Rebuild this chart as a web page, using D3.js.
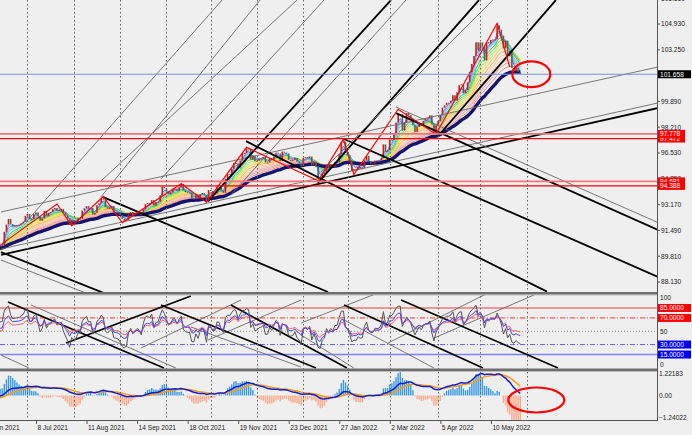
<!DOCTYPE html>
<html><head><meta charset="utf-8">
<script src="https://cdn.jsdelivr.net/npm/d3@7"></script>
<style>html,body{margin:0;padding:0;background:#efefef;overflow:hidden}svg{display:block}</style>
</head><body><svg id="c" width="692" height="435"></svg>
<script>
// ---------- DATA ----------
// daily closes before the visible window (Apr 26 - Jun 10 2021), used to warm up the indicators
const preCloses = [90.86,90.90,90.62,90.59,91.28,90.92,91.28,91.27,90.98,90.22,90.12,90.15,90.70,90.75,90.32,90.18,89.86,90.24,89.80,90.01,89.81,89.61,90.03,90.00,90.03,89.85,89.84,89.92,90.52,90.14,90.01,90.09,90.10,90.06];
// visible daily closes, 11 Jun 2021 (index 0) .. 27 May 2022 (index 248)
const closes = [
90.56,90.52,90.53,91.40,91.87,92.23,91.90,91.75,91.80,91.82,91.85,91.95,92.06,92.44,92.56,92.23,92.23,92.56,92.66,92.42,
92.12,92.26,92.76,92.41,92.64,92.69,92.87,92.95,92.77,92.82,92.89,92.65,92.47,92.28,91.85,92.17,92.05,92.07,92.27,92.25,
92.78,92.93,93.07,92.91,92.95,92.52,92.64,93.13,93.25,93.56,93.50,93.00,92.89,92.98,93.07,92.68,92.66,92.63,92.49,92.24,
92.13,92.18,92.53,92.68,92.49,92.58,92.66,92.63,92.49,92.86,93.20,93.27,93.22,93.46,93.10,93.33,93.36,93.77,94.35,94.23,
94.04,93.84,93.95,94.20,94.22,94.07,94.31,94.52,94.09,93.98,93.96,93.95,93.57,93.56,93.78,93.60,93.83,93.92,93.81,93.37,
94.12,94.06,93.87,93.89,94.34,94.32,94.06,93.94,94.85,95.15,95.12,95.50,95.89,95.86,95.58,96.04,96.50,96.52,96.82,96.79,
96.09,96.35,95.99,96.03,96.15,96.19,96.27,95.91,95.92,96.20,96.08,96.30,96.55,96.49,96.00,96.62,96.56,96.50,96.08,96.05,
96.08,96.20,95.96,95.85,95.67,96.21,96.26,96.19,96.30,95.72,95.97,95.62,94.96,94.83,95.17,95.26,95.75,95.55,95.76,95.64,
95.94,95.94,96.46,97.23,97.27,96.54,96.37,96.05,95.38,95.48,95.44,95.62,95.52,95.54,96.06,96.35,95.99,95.85,95.85,96.04,
96.03,96.04,96.19,97.09,96.61,96.71,97.41,97.39,97.79,98.51,99.03,99.05,97.99,98.53,99.13,99.00,98.78,98.33,97.90,98.23,
98.49,98.33,98.63,98.79,98.79,98.98,98.39,97.78,98.31,98.62,99.01,99.48,99.63,99.80,99.80,99.93,100.29,99.94,100.48,100.94,
101.00,100.41,100.63,101.13,101.80,102.33,102.85,103.74,103.19,103.73,103.46,102.56,103.75,103.66,103.89,103.92,103.93,104.84,104.56,104.17,
103.34,103.84,102.84,103.17,102.06,101.86,102.07,101.80,101.66];
const tickIdx = [-5,19,43,67,91,115,139,163,187,211,235];
const tickLabels = ["4 Jun 2021","8 Jul 2021","11 Aug 2021","14 Sep 2021","18 Oct 2021","19 Nov 2021","23 Dec 2021","27 Jan 2022","2 Mar 2022","5 Apr 2022","10 May 2022"];
const gridIdx = [14,36,58,80,101,123,145,166,186,209,229,251];
const priceTicks = [106.61,104.93,103.25,101.57,99.89,98.21,96.53,94.85,93.17,91.49,89.81,88.13];
const lastPrice = 101.658;
const redLevels = [97.472,97.778,94.681,94.388];
const oscLevels = [85,70,50,30,15];
const oscTickText = [100,50,0];
const macdTicks = [1.22183,0,-1.24022];
const zzIdx   = [0,28,35,50,59,87,99,118,152,164,169,190,208,237,243];
const zzPrice = [90.42,93.21,91.78,93.70,92.00,94.53,93.33,96.90,94.72,97.42,95.14,99.38,97.75,104.98,102.13];
// trendlines [idx1, price1, idx2, price2]
const mainLines = [
 [1.42,89.89,313.4,99.46],[1.42,90.28,313.4,99.79],[1.42,92.69,313.4,102.13],
 [1.42,90.08,50.3,87.41],[1.42,89.56,41.8,87.41],[49.9,93.66,156.7,87.48],[117.8,97.3,260.7,87.5],
 [164.3,97.44,313.4,88.46],[189,99.13,313.4,91.52],[189,99.52,313.4,92.0],
 [13.3,92.04,106.4,106.49],[48.9,93.67,124.4,106.49],[48.9,94.71,142,106.49],[77.4,94.84,154.8,106.49],
 [99.7,93.40,186.6,106.49],[110.6,93.8,193.7,106.49],[151.9,94.58,228.4,106.49],[153.4,95.29,235.0,106.49],
 [209.4,97.70,264.9,106.49]];
const mainLineKind = ["B","g","g","B","g","B","B","B","B","g","g","g","g","g","B","g","B","g","B"];
// oscillator trendlines [idx1, value1, idx2, value2]
const oscLines = [
 [4.75,94,78.8,-5.3],[15.7,89.5,84.5,-5.3],[1.4,14.3,14.7,-5.3],[32.3,32.3,91.6,103],
 [67.9,24.8,115.4,97],[99.7,36.8,143.9,97],[143.9,62.4,180.4,107.5],[185.2,32.3,232.7,107.5],[207,39.8,254.5,104.5],
 [77.4,89.5,151,-5.3],[110.6,89.5,165.7,-5.3],[164.3,89.5,230.3,-5.3],[191.4,97,265.9,-5.3],
 [91.6,56.4,143.9,-3.8],[143.9,44.4,169.0,-5.3],[164.3,67,207,-5.3]];
const oscLineKind = ["B","g","g","B","g","g","g","g","g","B","B","B","B","g","g","g"];

// ---------- INDICATORS ----------
const all = preCloses.concat(closes);
const P = preCloses.length;
function ema(a,n){const k=2/(n+1);const o=[];let e=a[0];for(let i=0;i<a.length;i++){e=i?a[i]*k+e*(1-k):a[i];o.push(e);}return o;}
function rsi(a,n){const o=[NaN];let g=0,l=0;for(let i=1;i<a.length;i++){const d=a[i]-a[i-1];const up=Math.max(d,0),dn=Math.max(-d,0);
  if(i<=n){g+=up/n;l+=dn/n;}else{g=(g*(n-1)+up)/n;l=(l*(n-1)+dn)/n;}o.push(l===0?100:100-100/(1+g/l));}return o;}
const vis = a => a.slice(P);

// ---------- SCALES ----------
const svg = d3.select("#c");
const W = 657;
const x = d3.scaleLinear().domain([0,248]).range([-2,-2+248*2.106]);
const y = d3.scaleLinear().domain([88.13,104.93]).range([282,24]);
const yo = d3.scaleLinear().domain([0,100]).range([364.5,298]);
const ym = d3.scaleLinear().domain([-1.24022,1.22183]).range([417.3,374]);
const defs = svg.append("defs");
function clip(id,y0,y1){defs.append("clipPath").attr("id",id).append("rect").attr("x",0).attr("y",y0).attr("width",W).attr("height",y1-y0);}
clip("cm",0,292); clip("co",295,369); clip("cd",371,420);
const gMain = svg.append("g").attr("clip-path","url(#cm)");
const gOsc  = svg.append("g").attr("clip-path","url(#co)");
const gMacd = svg.append("g").attr("clip-path","url(#cd)");

// grid
svg.append("g").selectAll("line").data(gridIdx).join("line")
  .attr("x1",d=>Math.round(x(d))+0.5).attr("x2",d=>Math.round(x(d))+0.5).attr("y1",0).attr("y2",420)
  .attr("stroke","#666").attr("stroke-width",1).attr("stroke-dasharray","1.5,2.5");

// ---------- MAIN PANEL ----------
const rainbow = [[3,"#3f8fff"],[4,"#6aaaf8"],[5,"#9cc8f4"],[6,"#74d0d8"],[8,"#2fc860"],[10,"#66dd44"],[12,"#a8e860"],
 [14,"#e8e84a"],[16,"#ffd040"],[19,"#ffb040"],[22,"#ffc890"],[25,"#ffc0a8"],[28,"#f8a8a8"],[31,"#f09898"],[35,"#e88888"]];
const line = d3.line().x((d,i)=>x(i)).y(d=>y(d));
rainbow.slice().reverse().forEach(([n,c])=>{
  gMain.append("path").attr("d",line(vis(ema(all,n)))).attr("fill","none").attr("stroke",c).attr("stroke-width",1);
});
gMain.append("path").attr("d",line(vis(ema(all,42)))).attr("fill","none").attr("stroke","#14146e").attr("stroke-width",3.4);

// candles (open = previous close)
const opens = closes.map((c,i)=> i? closes[i-1] : preCloses[P-1]);
gMain.append("g").selectAll("rect").data(closes).join("rect")
  .attr("x",(d,i)=>x(i)-0.8).attr("width",1.6)
  .attr("y",(d,i)=>y(Math.max(d,opens[i])))
  .attr("height",(d,i)=>Math.max(1,Math.abs(y(d)-y(opens[i]))))
  .attr("fill",(d,i)=> d>=opens[i] ? "#d81818" : "#4a6a5a");

// trendlines
gMain.append("g").selectAll("line").data(mainLines).join("line")
  .attr("x1",d=>x(d[0])).attr("y1",d=>y(d[1])).attr("x2",d=>x(d[2])).attr("y2",d=>y(d[3]))
  .attr("stroke",(d,i)=>mainLineKind[i]==="B"?"#000":"#6a6a6a")
  .attr("stroke-width",(d,i)=>mainLineKind[i]==="B"?1.8:0.9);

// zigzag
gMain.append("path").attr("d",d3.line().x(d=>x(d)).y((d,i)=>y(zzPrice[i]))(zzIdx))
  .attr("fill","none").attr("stroke","#ff0000").attr("stroke-width",1.2);

// horizontal levels
gMain.selectAll(".lv").data(redLevels).join("line").attr("class","lv")
  .attr("x1",0).attr("x2",W).attr("y1",d=>y(d)).attr("y2",d=>y(d))
  .attr("stroke",(d,i)=> (i===1||i===2)?"#f07878":"#ff0000").attr("stroke-width",(d,i)=>(i===1||i===2)?1.6:1.2);
gMain.append("line").attr("x1",0).attr("x2",W).attr("y1",y(lastPrice)).attr("y2",y(lastPrice))
  .attr("stroke","#7890e8").attr("stroke-width",1);

// red ellipse
svg.append("ellipse").attr("cx",x(248)+11).attr("cy",y(lastPrice)).attr("rx",19).attr("ry",12.8)
  .attr("fill","none").attr("stroke","#ff0000").attr("stroke-width",2.2);

// ---------- OSCILLATOR PANEL ----------
const oscStyle = [["#f07878",1.6,null],["#ff3030",1,"5,2,1,2"],["#909090",1,"1,2"],["#6060ff",1,"5,2,1,2"],["#8080ff",1.6,null]];
gOsc.selectAll(".ol").data(oscLevels).join("line").attr("class","ol")
  .attr("x1",0).attr("x2",W).attr("y1",d=>yo(d)).attr("y2",d=>yo(d))
  .attr("stroke",(d,i)=>oscStyle[i][0]).attr("stroke-width",(d,i)=>oscStyle[i][1])
  .attr("stroke-dasharray",(d,i)=>oscStyle[i][2]);
gOsc.append("g").selectAll("line").data(oscLines).join("line")
  .attr("x1",d=>x(d[0])).attr("y1",d=>yo(d[1])).attr("x2",d=>x(d[2])).attr("y2",d=>yo(d[3]))
  .attr("stroke",(d,i)=>oscLineKind[i]==="B"?"#000":"#6a6a6a")
  .attr("stroke-width",(d,i)=>oscLineKind[i]==="B"?1.6:0.9);
const oline = d3.line().defined(d=>!isNaN(d)).x((d,i)=>x(i)).y(d=>yo(d));
[[7,"#555555"],[21,"#ff6060"],[14,"#4848ff"]].forEach(([n,c])=>{
  gOsc.append("path").attr("d",oline(vis(rsi(all,n)))).attr("fill","none").attr("stroke",c).attr("stroke-width",1);
});

// ---------- MACD PANEL ----------
const e12 = ema(all,12), e26 = ema(all,26);
const macd = e12.map((v,i)=>v-e26[i]);
const sig = ema(macd,9);
const hist = macd.map((v,i)=>(v-sig[i])*4.5);
const vh = vis(hist), vm = vis(macd), vs = vis(sig);
gMacd.append("g").selectAll("rect").data(vh).join("rect")
  .attr("x",(d,i)=>x(i)-0.7).attr("width",1.4)
  .attr("y",d=>Math.min(ym(d),ym(0))).attr("height",d=>Math.abs(ym(d)-ym(0)))
  .attr("fill",d=>d>=0?"#3a9ae8":"#ffa888");
const mline = d3.line().x((d,i)=>x(i)).y(d=>ym(d));
gMacd.append("path").attr("d",mline(vs)).attr("fill","none").attr("stroke","#ff9a10").attr("stroke-width",1.5);
gMacd.append("path").attr("d",mline(vm)).attr("fill","none").attr("stroke","#1020d0").attr("stroke-width",1.5);
svg.append("ellipse").attr("cx",x(248)+16).attr("cy",400).attr("rx",28).attr("ry",12.5)
  .attr("fill","none").attr("stroke","#ff0000").attr("stroke-width",2.2);

// ---------- FRAME / AXES ----------
const fr = svg.append("g");
fr.append("rect").attr("x",0).attr("y",292).attr("width",W).attr("height",2.5).attr("fill","#6e6e6e");
fr.append("rect").attr("x",0).attr("y",368.5).attr("width",W).attr("height",2.5).attr("fill","#6e6e6e");
fr.append("line").attr("x1",0).attr("x2",W).attr("y1",420.5).attr("y2",420.5).attr("stroke","#555");
fr.append("line").attr("x1",W+0.5).attr("x2",W+0.5).attr("y1",0).attr("y2",421).attr("stroke","#555");
fr.append("line").attr("x1",0).attr("x2",W).attr("y1",295).attr("y2",295).attr("stroke","#999").attr("stroke-width",0.6);
fr.append("line").attr("x1",0).attr("x2",W).attr("y1",371.5).attr("y2",371.5).attr("stroke","#999").attr("stroke-width",0.6);

const FONT = "Liberation Sans, Arial, sans-serif";
function txt(g,xp,yp,s,col,anchor){return g.append("text").attr("x",xp).attr("y",yp).attr("dy","0.35em")
  .attr("font-family",FONT).attr("font-size",6.6).attr("fill",col||"#222").attr("text-anchor",anchor||"start").text(s);}
const ax = svg.append("g");
priceTicks.forEach(v=>{ax.append("line").attr("x1",W).attr("x2",W+3).attr("y1",y(v)).attr("y2",y(v)).attr("stroke","#555");
  txt(ax,661,y(v),d3.format(".3f")(v));});
// x axis
tickIdx.forEach((t,i)=>{
  ax.append("line").attr("x1",x(t)-1.5).attr("x2",x(t)-1.5).attr("y1",421).attr("y2",424).attr("stroke","#555");
  txt(ax,x(t)-0.5,428,tickLabels[i]);
});
// label boxes
function box(v,yy,fill,w){ax.append("rect").attr("x",658).attr("y",yy-4).attr("width",w).attr("height",8).attr("fill",fill);
  txt(ax,660,yy,v,"#fff");}
redLevels.forEach(v=>box(d3.format(".3f")(v),y(v),"#ff0000",27));
box(d3.format(".3f")(lastPrice),y(lastPrice),"#000",33);
// osc labels
oscTickText.forEach(v=>txt(ax,660,yo(v),String(v)));
[[85,"#ff0000"],[70,"#ff0000"],[30,"#0000ff"],[15,"#0000ff"]].forEach(([v,c])=>box(d3.format(".4f")(v),yo(v),c,33));
// macd labels
macdTicks.forEach(v=>txt(ax,659,ym(v),v===0?"0.00":d3.format(".5f")(v)));
</script></body></html>
